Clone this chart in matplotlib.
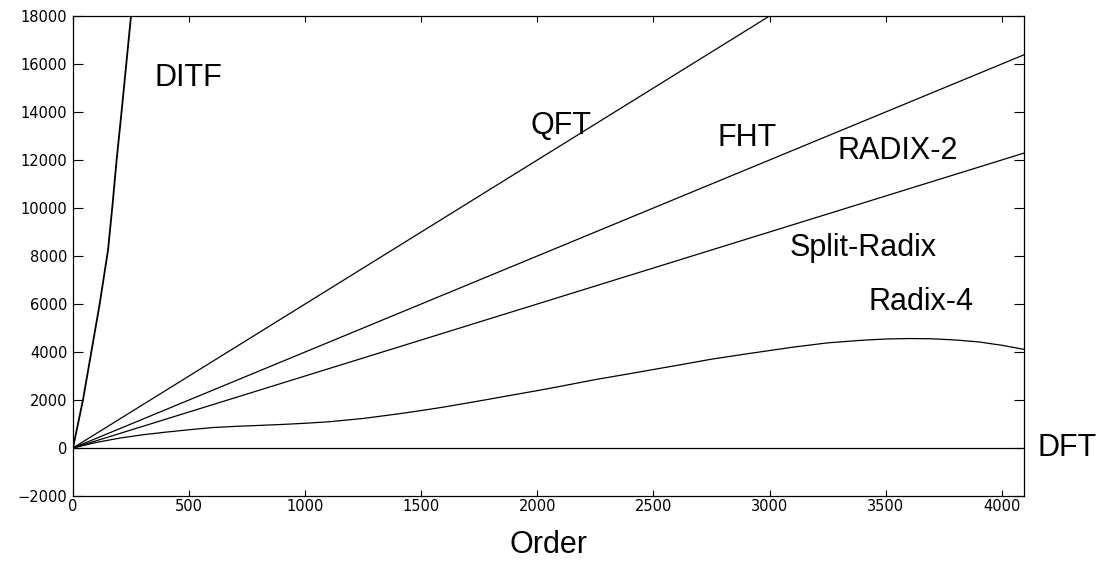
import matplotlib
matplotlib.use("Agg")
import matplotlib.pyplot as plt

# operation counts vs transform order
order_lin = [0, 4096]
qft = [0, 24576]
fht = [0, 16384]
radix3n = [0, 12288]

ditf_x = [0, 43, 79, 115, 151, 170, 188, 210, 250, 260]
ditf_y = [0, 2000, 4000, 6000, 8250, 10100, 12000, 14083, 18000, 19000]

radix4_x = [0, 100, 200, 300, 400, 500, 600, 700, 800, 900, 1000, 1100,
            1250, 1400, 1500, 1600, 1750, 1900, 2000, 2100, 2250, 2400,
            2500, 2600, 2750, 2900, 3000, 3100, 3250, 3400, 3500, 3600,
            3700, 3800, 3900, 4000, 4096]
radix4_y = [0, 230, 410, 550, 660, 760, 850, 900, 940, 980, 1030, 1090,
            1230, 1420, 1560, 1710, 1960, 2220, 2390, 2570, 2850, 3100,
            3270, 3440, 3700, 3920, 4060, 4200, 4380, 4490, 4540, 4560,
            4550, 4500, 4420, 4280, 4110]

dft_x = [0, 4096]
dft_y = [0, 0]

labels = ["DITF", "QFT", "FHT", "RADIX-2", "Split-Radix", "Radix-4", "DFT"]
label_x = [496, 2103, 2905, 3552, 3401, 3651, 4280]
label_y = [15417, 13417, 12917, 12375, 8333, 6083, 0]

fig = plt.figure(figsize=(11.09, 5.61), dpi=100)
ax = fig.add_axes([0.0658, 0.1159, 0.8576, 0.8556])

ax.plot(ditf_x, ditf_y, color="black", lw=1.3)
ax.plot(order_lin, qft, color="black", lw=0.9)
ax.plot(order_lin, fht, color="black", lw=0.9)
ax.plot(order_lin, radix3n, color="black", lw=0.9)
ax.plot(radix4_x, radix4_y, color="black", lw=0.9)
ax.plot(dft_x, dft_y, color="black", lw=0.9)

for name, x, y in zip(labels, label_x, label_y):
    ax.text(x, y, name, fontsize=22, family="Liberation Sans",
            ha="center", va="center", clip_on=False)

ax.set_xlim(0, 4096)
ax.set_ylim(-2000, 18000)
ax.set_xticks(range(0, 4001, 500))
ax.set_yticks(range(-2000, 18001, 2000))

ax.tick_params(axis="x", direction="in", length=4, width=0.8, pad=2,
               labelsize=10.5, top=True)
ax.tick_params(axis="y", direction="in", length=7.5, width=0.8, pad=4,
               labelsize=10.5, right=True)
for s in ax.spines.values():
    s.set_linewidth(0.9)

ax.set_xlabel("Order", fontsize=22, family="Liberation Sans")
ax.xaxis.set_label_coords(0.5, -0.07)

fig.savefig("out.png", dpi=100)
